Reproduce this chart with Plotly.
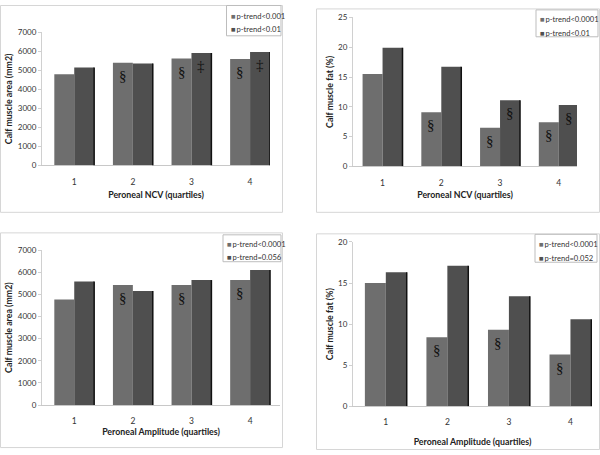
import plotly.graph_objects as go

quartiles = [1, 2, 3, 4]

# Panel A: Calf muscle area by Peroneal NCV
ncv_area_low = [4800, 5400, 5620, 5600]
ncv_area_high = [5150, 5360, 5920, 5970]
ncv_area_names = ["p-trend<0.001", "p-trend<0.01"]

# Panel B: Calf muscle fat by Peroneal NCV
ncv_fat_low = [15.5, 9.1, 6.5, 7.4]
ncv_fat_high = [19.9, 16.7, 11.1, 10.3]
ncv_fat_names = ["p-trend<0.0001", "p-trend<0.01"]

# Panel C: Calf muscle area by Peroneal Amplitude
amp_area_low = [4770, 5430, 5430, 5650]
amp_area_high = [5580, 5160, 5650, 6100]
amp_area_names = ["p-trend<0.0001", "p-trend=0.056"]

# Panel D: Calf muscle fat by Peroneal Amplitude
amp_fat_low = [15.0, 8.4, 9.3, 6.3]
amp_fat_high = [16.3, 17.1, 13.4, 10.6]
amp_fat_names = ["p-trend<0.0001", "p-trend=0.052"]

# Significance marks (series index 0=first, 1=second; quartile index)
marks_a = [(0, 1, "§"), (0, 2, "§"), (0, 3, "§"), (1, 2, "‡"), (1, 3, "‡")]
marks_b = [(0, 1, "§"), (0, 2, "§"), (0, 3, "§"), (1, 2, "§"), (1, 3, "§")]
marks_c = [(0, 1, "§"), (0, 2, "§"), (0, 3, "§")]
marks_d = [(0, 1, "§"), (0, 2, "§"), (0, 3, "§")]

W, H = 600, 455
LIGHT = "#6e6e6e"
DARK = "#4f4f4f"
FONT = "Lato"
BARW = 0.34  # width of one bar in category units (bargap 0.32)

def px(x):
    return x / W

def py(y):
    return 1 - y / H

panels = [
    dict(low=ncv_area_low, high=ncv_area_high, names=ncv_area_names, marks=marks_a,
         xd=[42, 270], yd=[164, 28], xr=[0.45, 4.34], yr=[0, 7000], dt=1000,
         ytitle="Calf muscle area (mm2)", xtitle="Peroneal NCV (quartiles)",
         box=(0.5, 0.5, 282.5, 212), leg=(226.5, 0.5, 281, 31.5), rows=(11, 25), xts=6),
    dict(low=ncv_fat_low, high=ncv_fat_high, names=ncv_fat_names, marks=marks_b,
         xd=[353, 577], yd=[165, 12.7], xr=[0.497, 4.31], yr=[0, 25], dt=5,
         ytitle="Calf muscle fat (%)", xtitle="Peroneal NCV (quartiles)",
         box=(316.5, 4, 599.5, 212), leg=(536, 5, 598, 32.5), rows=(14, 28.5), xts=5),
    dict(low=amp_area_low, high=amp_area_high, names=amp_area_names, marks=marks_c,
         xd=[42, 280], yd=[409, 250.7], xr=[0.45, 4.51], yr=[0, 7000], dt=1000,
         ytitle="Calf muscle area (mm2)", xtitle="Peroneal Amplitude (quartiles)",
         box=(0.5, 233, 282.5, 452.5), leg=(223, 235, 281, 262.5), rows=(244, 257.5), xts=0),
    dict(low=amp_fat_low, high=amp_fat_high, names=amp_fat_names, marks=marks_d,
         xd=[353, 592], yd=[410.3, 242.3], xr=[0.467, 4.35], yr=[0, 20], dt=5,
         ytitle="Calf muscle fat (%)", xtitle="Peroneal Amplitude (quartiles)",
         box=(316.5, 234, 599.5, 454.5), leg=(535, 234.5, 597, 263), rows=(244.5, 258.5), xts=12),
]

fig = go.Figure()
shapes = []
annotations = []
layout = {}

for i, p in enumerate(panels):
    n = "" if i == 0 else str(i + 1)
    xa, ya = "x" + n, "y" + n
    cols = [LIGHT, DARK]
    for k, vals in enumerate([p["low"], p["high"]]):
        fig.add_trace(go.Bar(
            x=quartiles, y=vals, name=p["names"][k], xaxis=xa, yaxis=ya,
            marker=dict(color=cols[k], line=dict(width=0)),
            offsetgroup=str(k), showlegend=False,
        ))
    # dark shadow edge on the right of each group (3-D look)
    for q, v in zip(quartiles, p["high"]):
        shapes.append(dict(type="line", xref=xa, yref=ya, x0=q + BARW, x1=q + BARW,
                           y0=0, y1=v, line=dict(color="#111111", width=1.5)))
    layout["xaxis" + n] = dict(
        domain=[px(p["xd"][0]), px(p["xd"][1])], range=p["xr"], anchor=ya,
        tickmode="array", tickvals=quartiles, ticktext=[str(q) for q in quartiles],
        showline=True, linecolor="#c8c8c8", linewidth=1, ticks="", showgrid=False,
        zeroline=False, tickfont=dict(size=8.5, color="#333", family=FONT),
        ticklabelstandoff=8,
        title=dict(text="<b>" + p["xtitle"] + "</b>", font=dict(size=8.8, color="#222", family=FONT),
                   standoff=p["xts"]),
        fixedrange=True,
    )
    layout["yaxis" + n] = dict(
        domain=[py(p["yd"][0]), py(p["yd"][1])], range=p["yr"], anchor=xa,
        dtick=p["dt"], tick0=0, showline=True, linecolor="#d0d0d0", linewidth=1,
        ticks="outside", ticklen=3, tickcolor="#d0d0d0", showgrid=False, zeroline=False,
        tickfont=dict(size=8, color="#333", family=FONT),
        title=dict(text="<b>" + p["ytitle"] + "</b>", font=dict(size=8.8, color="#222", family=FONT),
                   standoff=3),
        fixedrange=True,
    )
    # plot panel frame
    x0, y0, x1, y1 = p["box"]
    shapes.append(dict(type="rect", xref="paper", yref="paper",
                       x0=px(x0), x1=px(x1), y0=py(y1), y1=py(y0),
                       line=dict(color="#d6d6d6", width=1), layer="below"))
    # legend frame and entries
    lx0, ly0, lx1, ly1 = p["leg"]
    shapes.append(dict(type="rect", xref="paper", yref="paper",
                       x0=px(lx0), x1=px(lx1), y0=py(ly1), y1=py(ly0),
                       line=dict(color="#bdbdbd", width=1), fillcolor="white", layer="above"))
    for k, ry in enumerate(p["rows"]):
        name = p["names"][k].replace("<", "&lt;")
        annotations.append(dict(
            x=px(lx0 + 2), y=py(ry), xref="paper", yref="paper", xanchor="left", yanchor="middle",
            text="<span style='color:%s'>■</span>\u2009%s" % (cols[k], name),
            showarrow=False, font=dict(size=7.6, color="#333", family=FONT),
        ))
    # significance marks
    for (s, q, sym) in p["marks"]:
        vals = p["low"] if s == 0 else p["high"]
        off = -BARW / 2 if s == 0 else BARW / 2
        annotations.append(dict(
            x=quartiles[q] + off, y=vals[q], xref=xa, yref=ya, text=sym,
            showarrow=False, yanchor="top", yshift=-3,
            font=dict(size=15, color="#111", family="Liberation Serif"),
        ))

fig.update_layout(
    width=W, height=H, margin=dict(l=0, r=0, t=0, b=0),
    paper_bgcolor="white", plot_bgcolor="white",
    barmode="group", bargap=0.32, bargroupgap=0,
    shapes=shapes, annotations=annotations, **layout,
)

fig.write_html(
    "out.html",
    config={"displayModeBar": False, "staticPlot": True},
    post_script="document.body.style.margin='0px';document.body.style.overflow='hidden';"
                "document.documentElement.style.overflow='hidden';",
)
